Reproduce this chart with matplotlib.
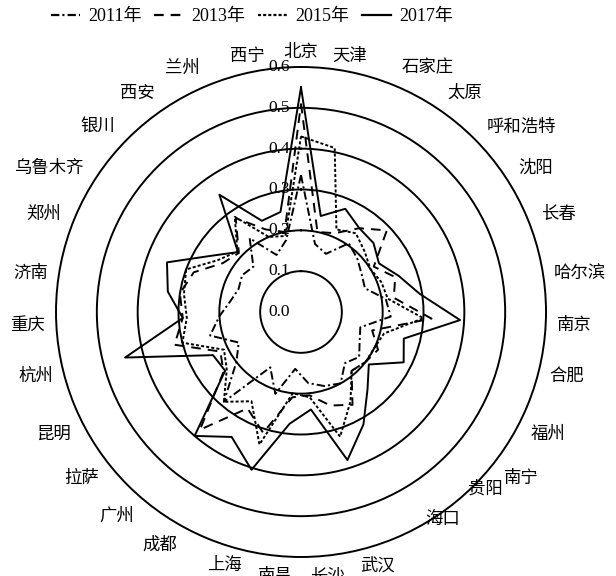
import numpy as np
import matplotlib
matplotlib.use("Agg")
import matplotlib.pyplot as plt
from matplotlib.transforms import offset_copy
from matplotlib.font_manager import FontProperties
from matplotlib.lines import Line2D

plt.rcParams['lines.scale_dashes'] = False

cities = ['北京', '天津', '石家庄', '太原', '呼和浩特', '沈阳', '长春', '哈尔滨',
          '南京', '合肥', '福州', '南宁', '贵阳', '海口', '武汉', '长沙', '南昌',
          '上海', '成都', '广州', '拉萨', '昆明', '杭州', '重庆', '济南', '郑州',
          '乌鲁木齐', '银川', '西安', '兰州', '西宁']

v2011 = [0.335, 0.17, 0.155, 0.205, 0.19, 0.175, 0.167, 0.21, 0.22, 0.15, 0.16,
         0.18, 0.165, 0.20, 0.19, 0.175, 0.14, 0.21, 0.155, 0.29, 0.20, 0.17,
         0.23, 0.20, 0.175, 0.163, 0.17, 0.161, 0.22, 0.152, 0.18]
v2013 = [0.51, 0.20, 0.21, 0.25, 0.29, 0.21, 0.246, 0.23, 0.32, 0.18, 0.21,
         0.20, 0.19, 0.26, 0.24, 0.205, 0.21, 0.31, 0.27, 0.38, 0.24, 0.22,
         0.32, 0.29, 0.30, 0.28, 0.226, 0.21, 0.28, 0.22, 0.20]
v2015 = [0.43, 0.41, 0.22, 0.235, 0.215, 0.20, 0.21, 0.215, 0.30, 0.21, 0.20,
         0.20, 0.19, 0.25, 0.32, 0.21, 0.20, 0.34, 0.25, 0.29, 0.23, 0.21,
         0.30, 0.28, 0.29, 0.30, 0.24, 0.215, 0.284, 0.20, 0.19]
v2017 = [0.55, 0.24, 0.275, 0.25, 0.245, 0.225, 0.255, 0.294, 0.39, 0.26, 0.28,
         0.21, 0.25, 0.315, 0.38, 0.24, 0.275, 0.405, 0.35, 0.40, 0.235, 0.24,
         0.445, 0.29, 0.33, 0.35, 0.26, 0.213, 0.35, 0.243, 0.25]

series_labels = ['2011年', '2013年', '2015年', '2017年']
r_ticks = [0.0, 0.1, 0.2, 0.3, 0.4, 0.5, 0.6]

styles = [(0, (6, 2.2, 1.5, 2.2)), (0, (7, 5)), (0, (2.2, 1.5)), '-']

serif_cjk = ['Liberation Serif', 'Noto Sans CJK SC']
cjk = ['Noto Sans CJK SC', 'DejaVu Sans']

fig = plt.figure(figsize=(6.16, 5.76), dpi=100)
ax = fig.add_axes([0.0909, 0.033, 0.7955, 0.8507], projection='polar')
ax.set_theta_zero_location('N')
ax.set_theta_direction(-1)
ax.set_ylim(0, 0.6)

n = len(cities)
theta = np.linspace(0, 2 * np.pi, n, endpoint=False)
theta_c = np.append(theta, theta[0])

for vals, ls in zip([v2011, v2013, v2015, v2017], styles):
    vv = np.append(vals, vals[0])
    ax.plot(theta_c, vv, color='black', lw=1.4, linestyle=ls)

ax.set_xticks([])
ax.set_yticks(r_ticks[1:-1])
ax.set_yticklabels([])
ax.grid(False, axis='x')
ax.grid(True, axis='y', color='black', lw=1.4)
ax.spines['polar'].set_color('black')
ax.spines['polar'].set_linewidth(1.4)

# radial labels
tr = offset_copy(ax.transData, fig=fig, x=-11, y=0, units='dots')
for r in r_ticks:
    ax.text(0, r, f'{r:.1f}', transform=tr, ha='right', va='center',
            fontsize=12.5, family='Liberation Serif', clip_on=False)

# city labels
nudge = {'北京': (0, -5), '天津': (-20, -4), '西宁': (15, -4),
         '贵阳': (0, 27), '海口': (0, 25)}
r_lab = 0.627
for t, c in zip(theta, cities):
    deg = np.degrees(t)
    if 160 < deg < 200 or deg < 8 or deg > 352:
        ha = 'center'
    elif deg < 180:
        ha = 'left'
    else:
        ha = 'right'
    cs = np.cos(t)
    va = 'bottom' if cs > 0.3 else ('top' if cs < -0.3 else 'center')
    dx, dy = nudge.get(c, (0, 0))
    trl = offset_copy(ax.transData, fig=fig, x=dx, y=dy, units='dots')
    ax.text(t, r_lab, c, transform=trl, ha=ha, va=va, fontsize=12.5,
            family=cjk, clip_on=False)

handles = [Line2D([], [], color='black', lw=1.6, linestyle=ls) for ls in styles]
fig.legend(handles, series_labels, loc='center',
           bbox_to_anchor=(252 / 616, 1 - 17 / 576), ncol=4, frameon=False,
           handlelength=1.6, handletextpad=0.45, columnspacing=0.7,
           prop=FontProperties(family=serif_cjk, size=13))

fig.savefig('out.png', dpi=100)
